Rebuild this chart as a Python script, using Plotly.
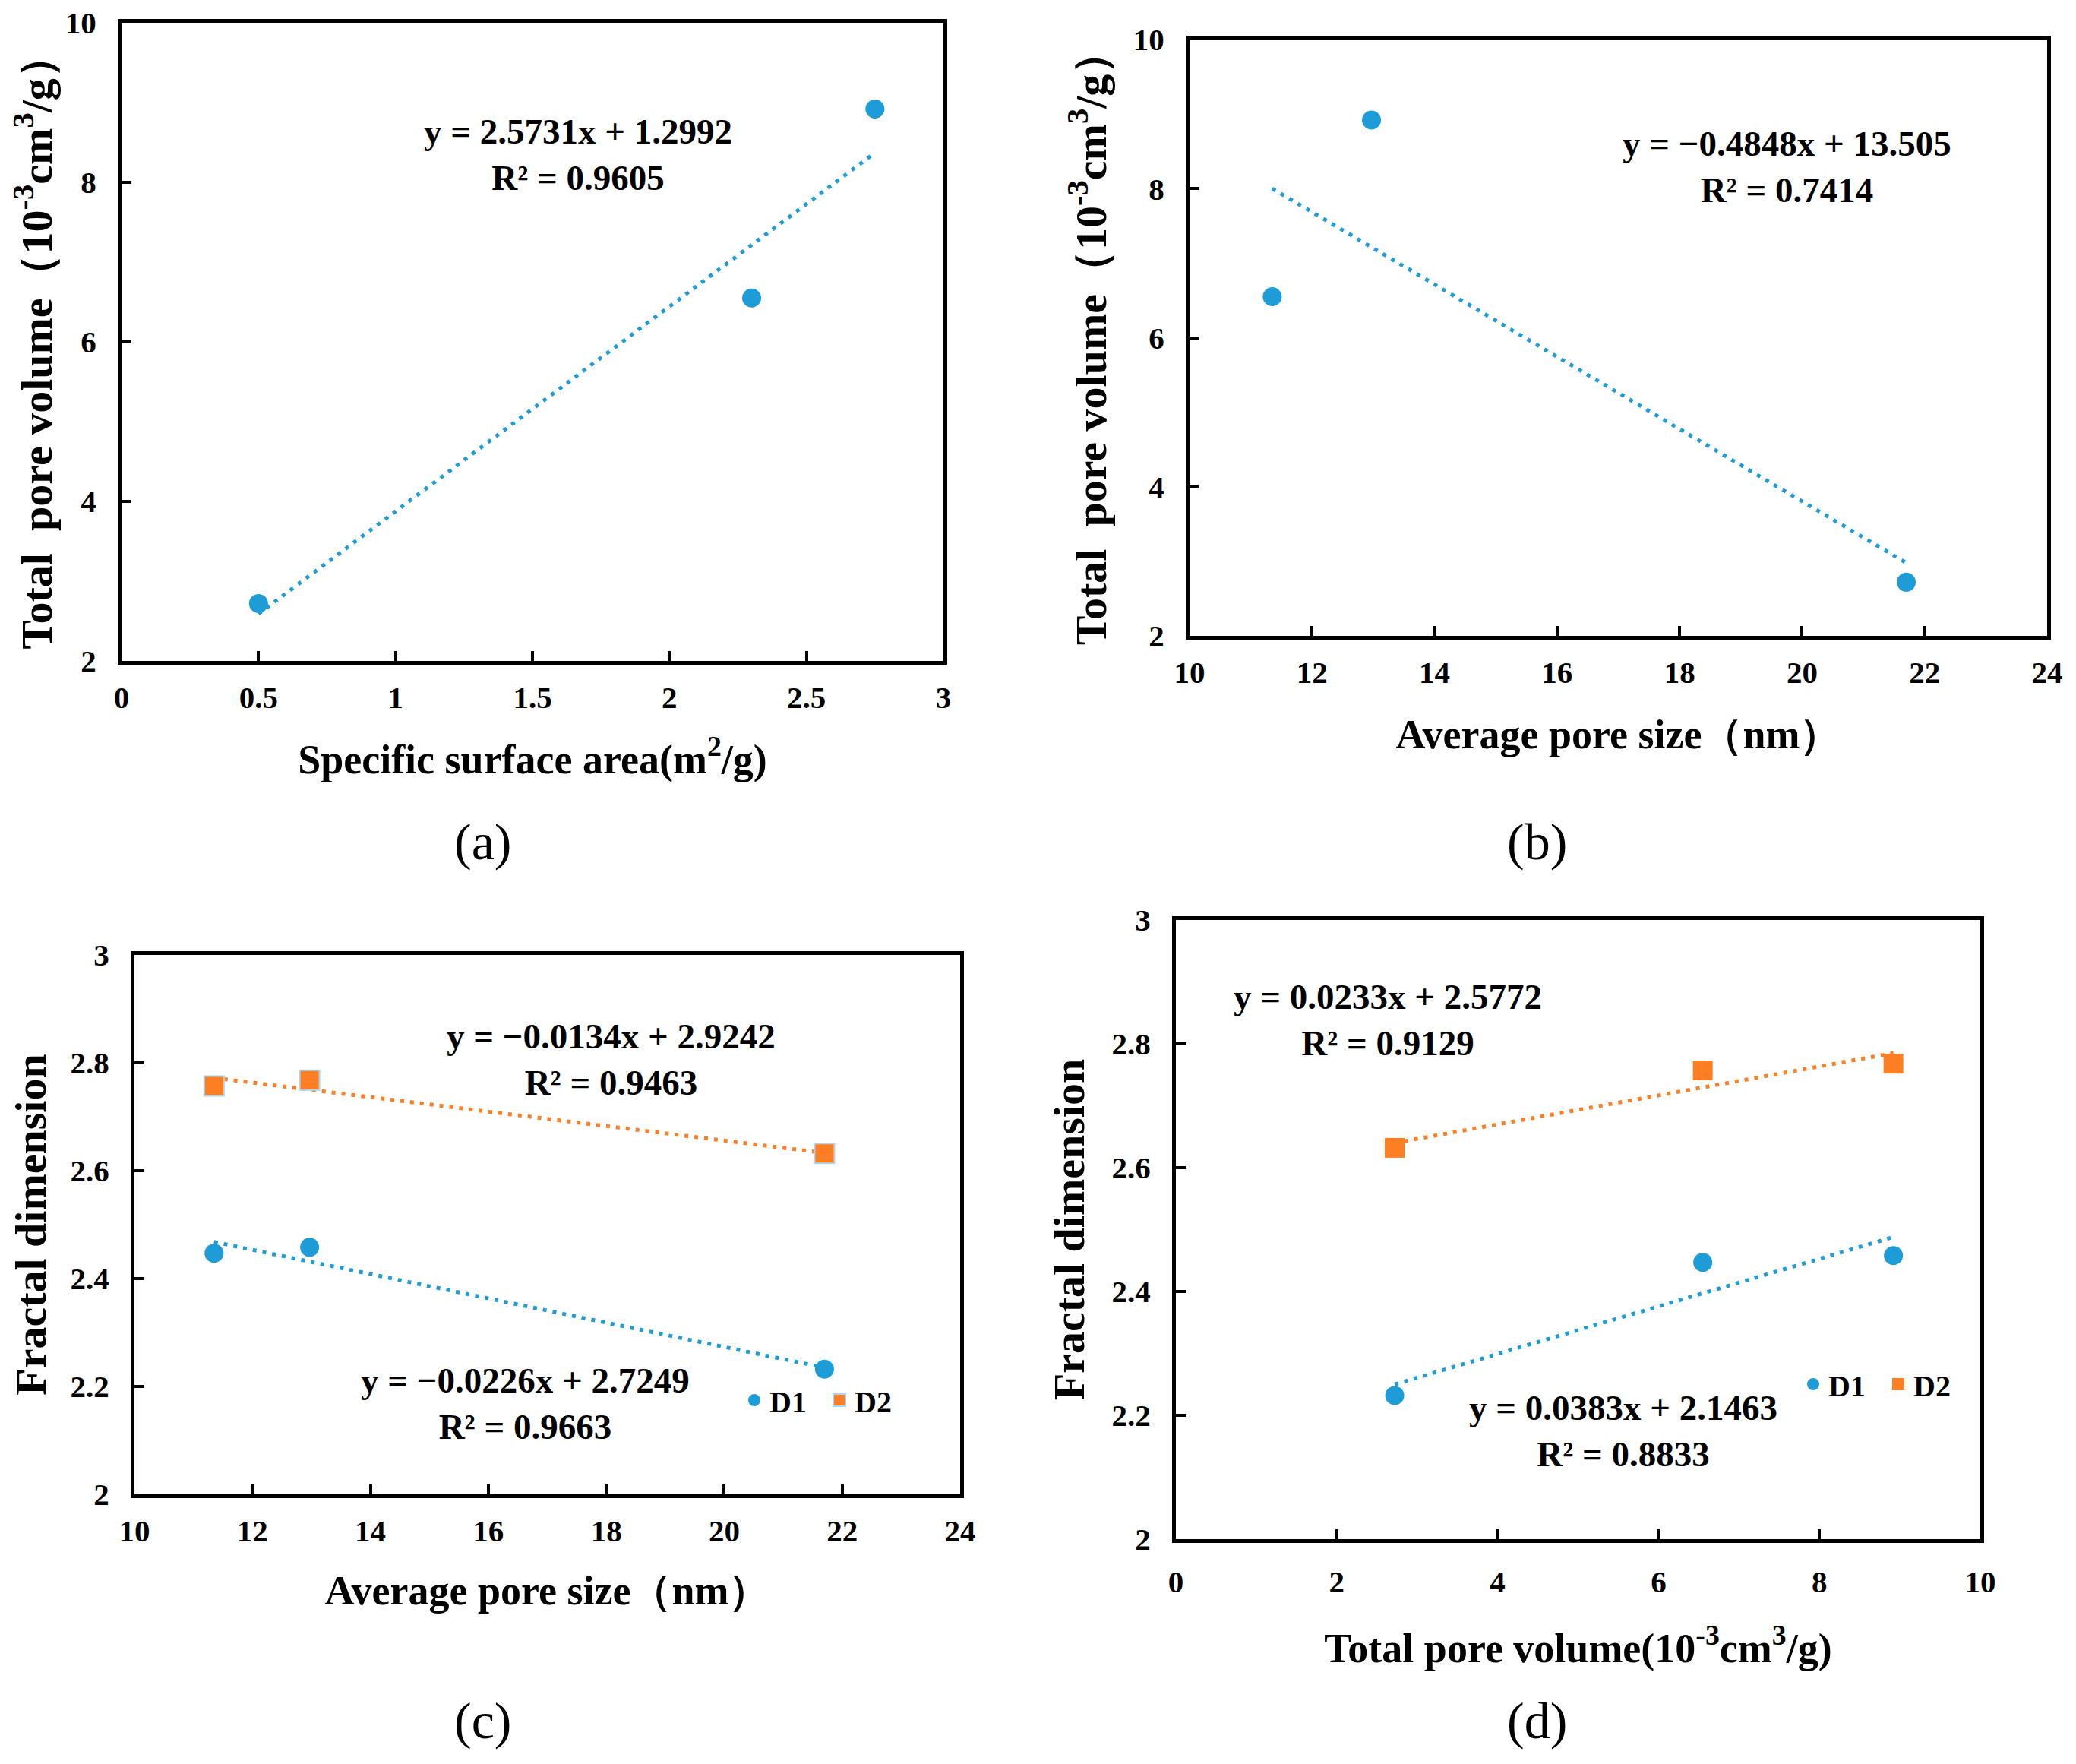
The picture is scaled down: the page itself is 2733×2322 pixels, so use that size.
import plotly.graph_objects as go

# samples (same order in every list)
surface_area = [2.3, 2.75, 0.5]        # m2/g
pore_size = [11.35, 12.97, 21.7]       # nm
pore_volume = [6.55, 8.92, 2.72]       # 10^-3 cm3/g
d1 = [2.447, 2.458, 2.232]
d2 = [2.757, 2.768, 2.632]

# trend line end points
trend_a_x = [0.5, 2.75]
trend_a_y = [2.59, 8.37]
trend_b_x = [11.35, 21.7]
trend_b_y = [8.0, 2.98]
trend_c_x = [11.35, 21.7]
trend_c1_y = [2.468, 2.235]
trend_c2_y = [2.772, 2.633]
trend_d_x = [2.72, 8.92]
trend_d1_y = [2.25, 2.488]
trend_d2_y = [2.64, 2.785]

eq_a = "y = 2.5731x + 1.2992<br>R² = 0.9605"
eq_b = "y = −0.4848x + 13.505<br>R² = 0.7414"
eq_c2 = "y = −0.0134x + 2.9242<br>R² = 0.9463"
eq_c1 = "y = −0.0226x + 2.7249<br>R² = 0.9663"
eq_d2 = "y = 0.0233x + 2.5772<br>R² = 0.9129"
eq_d1 = "y = 0.0383x + 2.1463<br>R² = 0.8833"

blue = "#1e9cd8"
orange = "#fd7e23"
serif = "Times New Roman, Liberation Serif, serif"

# page has an 8px body margin, so keep the figure inside the window
W, H = 2712, 2300

def fx(px):
    return (px - 8) / W

def fy(px):
    return 1 - (px - 8) / H

fig = go.Figure()

def points(x, y, xa, ya, color, symbol="circle", name=None, legend=None, line=None):
    fig.add_trace(go.Scatter(
        x=x, y=y, xaxis=xa, yaxis=ya, mode="markers", name=name,
        showlegend=legend is not None, legend=legend,
        marker=dict(color=color, symbol=symbol, size=25 if symbol == "circle" else 26,
                    line=line or dict(width=0))))

def trend(x, y, xa, ya, color):
    fig.add_trace(go.Scatter(
        x=x, y=y, xaxis=xa, yaxis=ya, mode="lines", showlegend=False,
        line=dict(color=color, width=5, dash="5px,8px")))

# (a)
trend(trend_a_x, trend_a_y, "x", "y", blue)
points(surface_area, pore_volume, "x", "y", blue)
# (b)
trend(trend_b_x, trend_b_y, "x2", "y2", blue)
points(pore_size, pore_volume, "x2", "y2", blue)
# (c)
trend(trend_c_x, trend_c1_y, "x3", "y3", blue)
trend(trend_c_x, trend_c2_y, "x3", "y3", orange)
points(pore_size, d1, "x3", "y3", blue, name="D1", legend="legend")
points(pore_size, d2, "x3", "y3", orange, "square", name="D2", legend="legend",
       line=dict(color="rgb(175,212,236)", width=2))
# (d)
trend(trend_d_x, trend_d1_y, "x4", "y4", blue)
trend(trend_d_x, trend_d2_y, "x4", "y4", orange)
points(pore_volume, d1, "x4", "y4", blue, name="D1", legend="legend2")
points(pore_volume, d2, "x4", "y4", orange, "square", name="D2", legend="legend2")

axis_style = dict(
    showline=True, mirror=True, linecolor="black", linewidth=5,
    ticks="inside", ticklen=13, tickwidth=4, tickcolor="black",
    showgrid=False, zeroline=False, automargin=False, ticklabeloverflow="allow",
    tickfont=dict(family=serif, size=41, color="black", weight="bold"),
)

def xaxis(left, right, rng, dtick, title, anchor, standoff, label_gap=8):
    return dict(axis_style, domain=[fx(left), fx(right)], range=rng, dtick=dtick,
                anchor=anchor, ticklabelstandoff=label_gap,
                title=dict(text=title, standoff=standoff,
                           font=dict(family=serif, size=54, color="black", weight="bold")))

def yaxis(bottom, top, rng, dtick, title, anchor, standoff):
    return dict(axis_style, domain=[fy(bottom), fy(top)], range=rng, dtick=dtick,
                anchor=anchor, ticklabelstandoff=20,
                title=dict(text=title, standoff=standoff,
                           font=dict(family=serif, size=58, color="black", weight="bold")))

vol_title = "Total  pore volume（10<sup>-3</sup>cm<sup>3</sup>/g）"
size_title = "Average pore size（nm）"
legend_font = dict(family=serif, size=40, color="black", weight="bold")

fig.update_layout(
    width=W, height=H, margin=dict(l=0, r=0, t=0, b=0),
    plot_bgcolor="white", paper_bgcolor="white",
    xaxis=xaxis(160, 1242, [0, 3], 0.5, "Specific surface area(m<sup>2</sup>/g)", "y", 41),
    yaxis=yaxis(870, 30, [2, 10], 2, vol_title, "x", 25),
    xaxis2=xaxis(1566, 2695, [10, 24], 2, size_title, "y2", 41),
    yaxis2=yaxis(837, 52, [2, 10], 2, vol_title, "x2", 18),
    xaxis3=xaxis(177, 1264, [10, 24], 2, size_title, "y3", 38),
    yaxis3=yaxis(1967, 1257, [2, 3], 0.2, "Fractal dimension", "x3", 18),
    xaxis4=xaxis(1548, 2607, [0, 10], 2,
                 "Total pore volume(10<sup>-3</sup>cm<sup>3</sup>/g)", "y4", 47, 16),
    yaxis4=yaxis(2026, 1211, [2, 3], 0.2, "Fractal dimension", "x4", 19),
    legend=dict(x=fx(973), y=fy(1843), xanchor="left", yanchor="middle", orientation="h",
                entrywidth=67, bgcolor="rgba(0,0,0,0)", itemclick=False, font=legend_font),
    legend2=dict(x=fx(2367), y=fy(1822), xanchor="left", yanchor="middle", orientation="h",
                 entrywidth=67, bgcolor="rgba(0,0,0,0)", itemclick=False, font=legend_font),
)

eq_font = dict(family=serif, size=47, color="black", weight="bold")
for text, xr, yr, x, y in [
    (eq_a, "x", "y", 1.666, 8.35),
    (eq_b, "x2", "y2", 19.75, 8.29),
    (eq_c2, "x3", "y3", 18.08, 2.807),
    (eq_c1, "x3", "y3", 16.62, 2.168),
    (eq_d2, "x4", "y4", 2.63, 2.839),
    (eq_d1, "x4", "y4", 5.56, 2.175),
]:
    fig.add_annotation(text=text, xref=xr, yref=yr, x=x, y=y, showarrow=False,
                       align="center", font=eq_font)

for text, x, y in [("(a)", 635, 1108), ("(b)", 2023, 1108),
                   ("(c)", 635, 2265), ("(d)", 2023, 2265)]:
    fig.add_annotation(text=text, xref="paper", yref="paper", x=fx(x), y=fy(y),
                       showarrow=False, xanchor="center", yanchor="middle",
                       font=dict(family=serif, size=68, color="black"))

fig.write_html("out.html")
